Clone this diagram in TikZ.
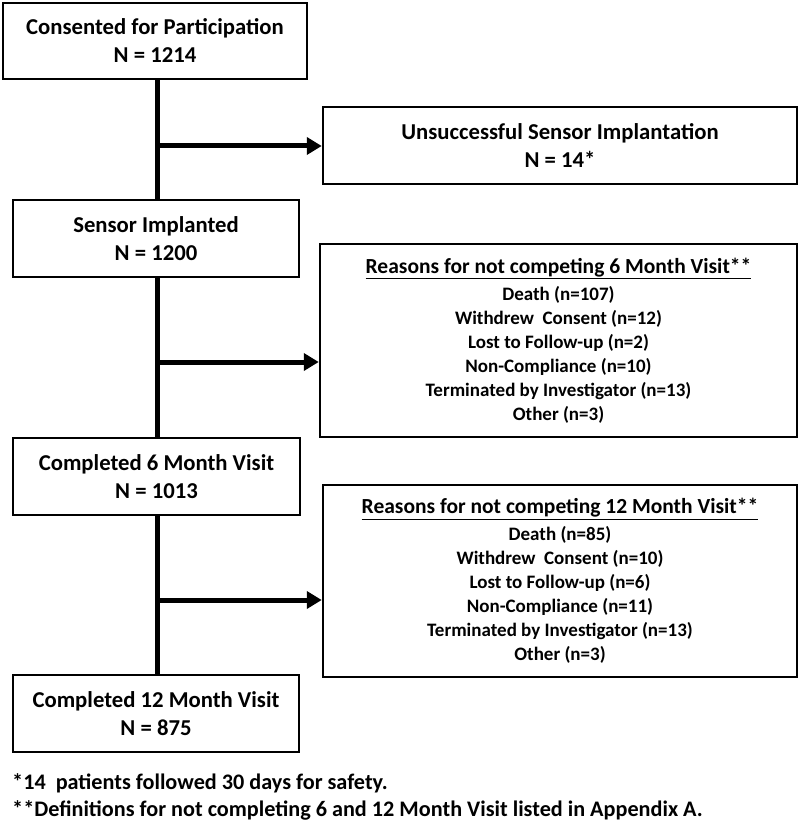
\documentclass[tikz,border=0pt]{standalone}
\usepackage{fontspec}
\setmainfont{Carlito}
\usetikzlibrary{arrows.meta}
\newcommand{\rtitle}[1]{{\fontsize{21.5}{24}\selectfont\underline{#1}}}
\begin{document}
\begin{tikzpicture}[x=1pt,y=-1pt,
  box/.style={draw, line width=2.5pt, inner sep=0pt, align=center,
    font=\bfseries\fontsize{22.7}{28}\selectfont},
  rbox/.style={draw, line width=2.5pt, inner sep=0pt, align=center,
    font=\bfseries\fontsize{19}{24}\selectfont},
  trunk/.style={line width=5pt},
  arr/.style={line width=5pt, -{Triangle[length=15pt,width=17pt]}},
  foot/.style={anchor=west, inner sep=0pt, font=\bfseries\fontsize{22.2}{26}\selectfont}]
\useasboundingbox (0,0) rectangle (800,829);
\node[box, minimum width=304pt, minimum height=76pt] (b1) at (155,41) {Consented for Participation\\N = 1214};
\node[box, minimum width=474pt, minimum height=77pt] (u) at (560,145.5) {Unsuccessful Sensor Implantation\\N = 14*};
\node[box, minimum width=286pt, minimum height=77pt] (b2) at (156,238.5) {Sensor Implanted\\N = 1200};
\node[rbox, minimum width=477pt, minimum height=193pt] (r6) at (558.5,340.5) {\rtitle{Reasons for not competing 6 Month Visit**}\\[3pt]
Death (n=107)\\Withdrew\ \ Consent (n=12)\\Lost to Follow-up (n=2)\\Non-Compliance (n=10)\\Terminated by Investigator (n=13)\\Other (n=3)};
\node[box, minimum width=287pt, minimum height=77pt] (b3) at (156.5,476.5) {Completed 6 Month Visit\\N = 1013};
\node[rbox, minimum width=474pt, minimum height=192pt] (r12) at (560,581) {\rtitle{Reasons for not competing 12 Month Visit**}\\[3pt]
Death (n=85)\\Withdrew\ \ Consent (n=10)\\Lost to Follow-up (n=6)\\Non-Compliance (n=11)\\Terminated by Investigator (n=13)\\Other (n=3)};
\node[box, minimum width=286pt, minimum height=77pt] (b4) at (156,713.5) {Completed 12 Month Visit\\N = 875};
\coordinate (t1) at (157,146);
\coordinate (t2) at (157,362);
\coordinate (t3) at (157,600);
\draw[trunk] (b1.south -| t1) -- (b2.north -| t1);
\draw[trunk] (b2.south -| t1) -- (b3.north -| t1);
\draw[trunk] (b3.south -| t1) -- (b4.north -| t1);
\draw[arr] (t1) -- (t1 -| u.west);
\draw[arr] (t2) -- (t2 -| r6.west);
\draw[arr] (t3) -- (t3 -| r12.west);
\node[foot] (f1) at (12,783) {*14\ \ patients followed 30 days for safety.};
\node[foot] (f2) at (12,810) {**Definitions for not completing 6 and 12 Month Visit listed in Appendix A.};
\end{tikzpicture}
\end{document}
